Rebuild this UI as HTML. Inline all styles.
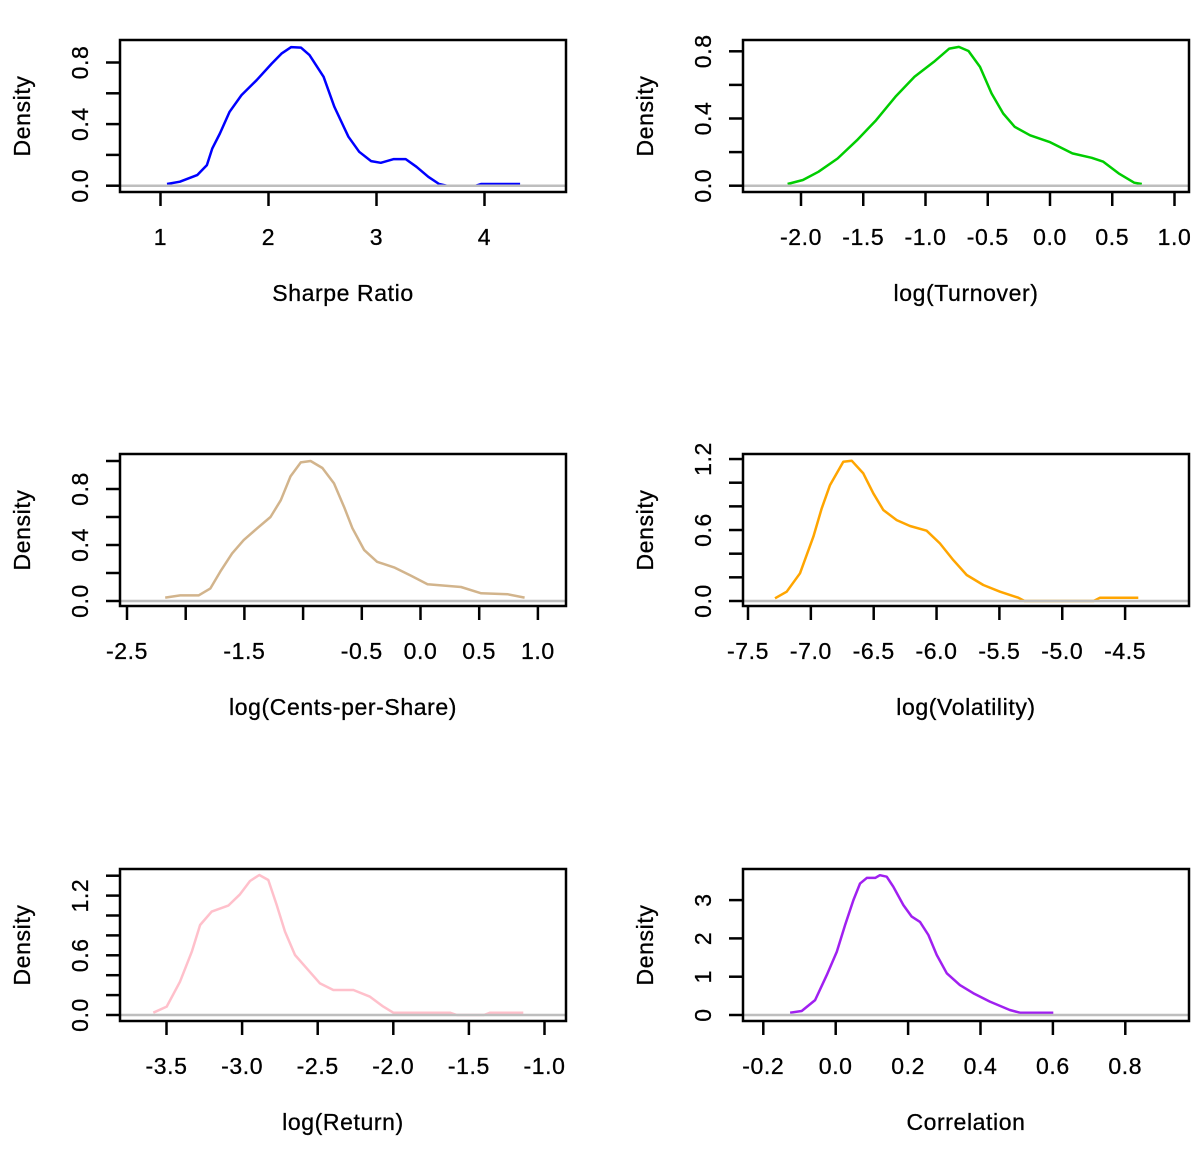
<!DOCTYPE html>
<html><head><meta charset="utf-8"><style>
html,body{margin:0;padding:0;background:#fff;}
svg{display:block;font-family:"Liberation Sans",sans-serif;}
text{letter-spacing:0.6px;}
</style></head><body>
<svg id="chart" width="1200" height="1149" viewBox="0 0 1200 1149" xmlns="http://www.w3.org/2000/svg"></svg>
<script>
// ---- data ----
const sharpeX = [1.06,1.18,1.34,1.43,1.48,1.55,1.64,1.75,1.89,2.03,2.12,2.21,2.30,2.38,2.51,2.61,2.74,2.84,2.95,3.04,3.16,3.27,3.37,3.48,3.58,3.65,3.92,3.97,4.33];
const sharpeY = [0.011,0.026,0.069,0.134,0.242,0.339,0.48,0.588,0.685,0.793,0.858,0.90,0.897,0.848,0.707,0.512,0.318,0.22,0.16,0.149,0.173,0.173,0.123,0.058,0.011,0.0,0.0,0.011,0.011];
const turnX = [-2.108,-1.985,-1.86,-1.706,-1.55,-1.397,-1.242,-1.088,-0.933,-0.809,-0.732,-0.655,-0.562,-0.469,-0.376,-0.283,-0.16,-0.005,0.18,0.335,0.428,0.552,0.676,0.737];
const turnY = [0.01,0.034,0.083,0.162,0.271,0.39,0.529,0.648,0.737,0.816,0.826,0.802,0.707,0.549,0.43,0.35,0.30,0.261,0.192,0.166,0.143,0.073,0.018,0.01];
const centsX = [-2.175,-2.047,-1.89,-1.79,-1.705,-1.605,-1.506,-1.39,-1.278,-1.19,-1.107,-1.02,-0.936,-0.836,-0.737,-0.65,-0.58,-0.48,-0.37,-0.225,-0.08,0.06,0.345,0.517,0.745,0.887];
const centsY = [0.024,0.04,0.04,0.09,0.21,0.34,0.435,0.52,0.60,0.72,0.89,0.99,1.0,0.95,0.84,0.67,0.52,0.365,0.28,0.24,0.18,0.12,0.10,0.055,0.048,0.024];
const volX = [-7.285,-7.192,-7.086,-6.98,-6.914,-6.848,-6.742,-6.675,-6.583,-6.503,-6.424,-6.317,-6.211,-6.079,-5.973,-5.867,-5.76,-5.628,-5.495,-5.35,-5.3,-4.75,-4.70,-4.395];
const volY = [0.023,0.079,0.234,0.544,0.783,0.98,1.177,1.186,1.079,0.91,0.769,0.684,0.634,0.594,0.487,0.346,0.22,0.135,0.079,0.028,0.0,0.0,0.028,0.028];
const retX = [-3.587,-3.499,-3.411,-3.333,-3.278,-3.201,-3.091,-3.014,-2.948,-2.886,-2.827,-2.771,-2.716,-2.65,-2.573,-2.485,-2.397,-2.264,-2.154,-2.066,-2.0,-1.868,-1.625,-1.58,-1.40,-1.36,-1.14];
const retY = [0.023,0.084,0.335,0.636,0.905,1.039,1.099,1.213,1.347,1.407,1.357,1.106,0.838,0.603,0.469,0.318,0.251,0.251,0.184,0.084,0.023,0.023,0.023,0.0,0.0,0.023,0.023];
const corrX = [-0.126,-0.094,-0.057,-0.025,0.003,0.026,0.049,0.067,0.086,0.109,0.122,0.141,0.159,0.187,0.21,0.233,0.256,0.279,0.307,0.343,0.38,0.426,0.481,0.509,0.601];
const corrY = [0.06,0.104,0.39,1.04,1.65,2.35,3.0,3.43,3.58,3.58,3.65,3.61,3.35,2.87,2.57,2.43,2.09,1.57,1.09,0.78,0.57,0.35,0.13,0.06,0.06];

const xTicks1 = [1,2,3,4];            const xLabels1 = ["1","2","3","4"];
const yTicks1 = [0,0.2,0.4,0.6,0.8];  const yLabels1 = ["0.0","","0.4","","0.8"];
const xTicks2 = [-2,-1.5,-1,-0.5,0,0.5,1]; const xLabels2 = ["-2.0","-1.5","-1.0","-0.5","0.0","0.5","1.0"];
const yTicks2 = [0,0.2,0.4,0.6,0.8];  const yLabels2 = ["0.0","","0.4","","0.8"];
const xTicks3 = [-2.5,-2,-1.5,-1,-0.5,0,0.5,1]; const xLabels3 = ["-2.5","","-1.5","","-0.5","0.0","0.5","1.0"];
const yTicks3 = [0,0.2,0.4,0.6,0.8,1.0]; const yLabels3 = ["0.0","","0.4","","0.8",""];
const xTicks4 = [-7.5,-7,-6.5,-6,-5.5,-5,-4.5]; const xLabels4 = ["-7.5","-7.0","-6.5","-6.0","-5.5","-5.0","-4.5"];
const yTicks4 = [0,0.2,0.4,0.6,0.8,1.0,1.2]; const yLabels4 = ["0.0","","","0.6","","","1.2"];
const xTicks5 = [-3.5,-3,-2.5,-2,-1.5,-1]; const xLabels5 = ["-3.5","-3.0","-2.5","-2.0","-1.5","-1.0"];
const yTicks5 = [0,0.2,0.4,0.6,0.8,1.0,1.2,1.4]; const yLabels5 = ["0.0","","","0.6","","","1.2",""];
const xTicks6 = [-0.2,0,0.2,0.4,0.6,0.8]; const xLabels6 = ["-0.2","0.0","0.2","0.4","0.6","0.8"];
const yTicks6 = [0,1,2,3]; const yLabels6 = ["0","1","2","3"];

// ---- layout ----
const panels = [
 {name:"sharpe-ratio", xs:sharpeX, ys:sharpeY, xt:xTicks1, xl:xLabels1, yt:yTicks1, yl:yLabels1, color:"#0000ff", xlab:"Sharpe Ratio",
  L:120,R:566,T:40,B:192, x0v:1, x0p:160.5, xk:108, zy:185.7, yk:154},
 {name:"turnover", xs:turnX, ys:turnY, xt:xTicks2, xl:xLabels2, yt:yTicks2, yl:yLabels2, color:"#00cd00", xlab:"log(Turnover)",
  L:743,R:1189,T:40,B:192, x0v:-2, x0p:801, xk:124.5, zy:185.7, yk:168},
 {name:"cents-per-share", xs:centsX, ys:centsY, xt:xTicks3, xl:xLabels3, yt:yTicks3, yl:yLabels3, color:"#d2b48c", xlab:"log(Cents-per-Share)",
  L:120,R:566,T:454,B:606, x0v:-2.5, x0p:127, xk:117.4, zy:601, yk:140},
 {name:"volatility", xs:volX, ys:volY, xt:xTicks4, xl:xLabels4, yt:yTicks4, yl:yLabels4, color:"#ffa500", xlab:"log(Volatility)",
  L:743,R:1189,T:454,B:606, x0v:-7.5, x0p:748, xk:125.7, zy:601, yk:118.3},
 {name:"return", xs:retX, ys:retY, xt:xTicks5, xl:xLabels5, yt:yTicks5, yl:yLabels5, color:"#ffc0cb", xlab:"log(Return)",
  L:120,R:566,T:869,B:1021, x0v:-3.5, x0p:166.5, xk:151.2, zy:1015, yk:99.5},
 {name:"correlation", xs:corrX, ys:corrY, xt:xTicks6, xl:xLabels6, yt:yTicks6, yl:yLabels6, color:"#a020f0", xlab:"Correlation",
  L:743,R:1189,T:869,B:1021, x0v:0, x0p:835.7, xk:362, zy:1015, yk:38.3}
];

const NS = "http://www.w3.org/2000/svg";
const svg = document.getElementById("chart");
const FS = 23;
function mk(tag, attrs, parent){
  const e = document.createElementNS(NS, tag);
  for (const k in attrs) e.setAttribute(k, attrs[k]);
  (parent||svg).appendChild(e);
  return e;
}
panels.forEach(p => {
  const xScale = v => p.x0p + (v - p.x0v) * p.xk;
  const yScale = v => p.zy - v * p.yk;
  const g = mk("g", {});
  
  

  const d = p.xs.map((v,i)=>(i?"L":"M")+xScale(v).toFixed(1)+","+yScale(p.ys[i]).toFixed(1)).join(" ");
  const curve = mk("path", {d:d, fill:"none", stroke:p.color, "stroke-width":2.5, "stroke-linejoin":"round"}, g);
  
  

  const base = mk("line", {x1:p.L, x2:p.R, y1:p.zy, y2:p.zy, stroke:"#bebebe", "stroke-width":2.5}, g);
  
  

  const box = mk("rect", {x:p.L, y:p.T, width:p.R-p.L, height:p.B-p.T, fill:"none", stroke:"#000", "stroke-width":2.5}, g);
  
  

  p.xt.forEach((v,i) => {
    const x = xScale(v);
    const t = mk("line", {x1:x, x2:x, y1:p.B, y2:p.B+14, stroke:"#000", "stroke-width":2.5}, g);
    
    
    if (p.xl[i]) {
      const tx = mk("text", {x:x, y:p.B+53, "text-anchor":"middle", "font-size":FS, fill:"#000", stroke:"#000", "stroke-width":0.3}, g);
      tx.textContent = p.xl[i];
      
      
    }
  });
  p.yt.forEach((v,i) => {
    const y = yScale(v);
    const t = mk("line", {x1:p.L-14, x2:p.L, y1:y, y2:y, stroke:"#000", "stroke-width":2.5}, g);
    
    
    if (p.yl[i]) {
      const lx = p.L - 32;
      const tx = mk("text", {x:lx, y:y, "text-anchor":"middle", "font-size":FS, fill:"#000", stroke:"#000", "stroke-width":0.3, transform:`rotate(-90 ${lx} ${y})`}, g);
      tx.textContent = p.yl[i];
      
      
    }
  });
  const cx = (p.L + p.R) / 2;
  const xt = mk("text", {x:cx, y:p.B+109, "text-anchor":"middle", "font-size":FS, fill:"#000", stroke:"#000", "stroke-width":0.3}, g);
  xt.textContent = p.xlab;
  
  
  const cy = (p.T + p.B) / 2;
  const yx = p.L - 90;
  const yt = mk("text", {x:yx, y:cy, "text-anchor":"middle", "font-size":FS, fill:"#000", stroke:"#000", "stroke-width":0.3, transform:`rotate(-90 ${yx} ${cy})`}, g);
  yt.textContent = "Density";
  
  
});
</script>
</body></html>
